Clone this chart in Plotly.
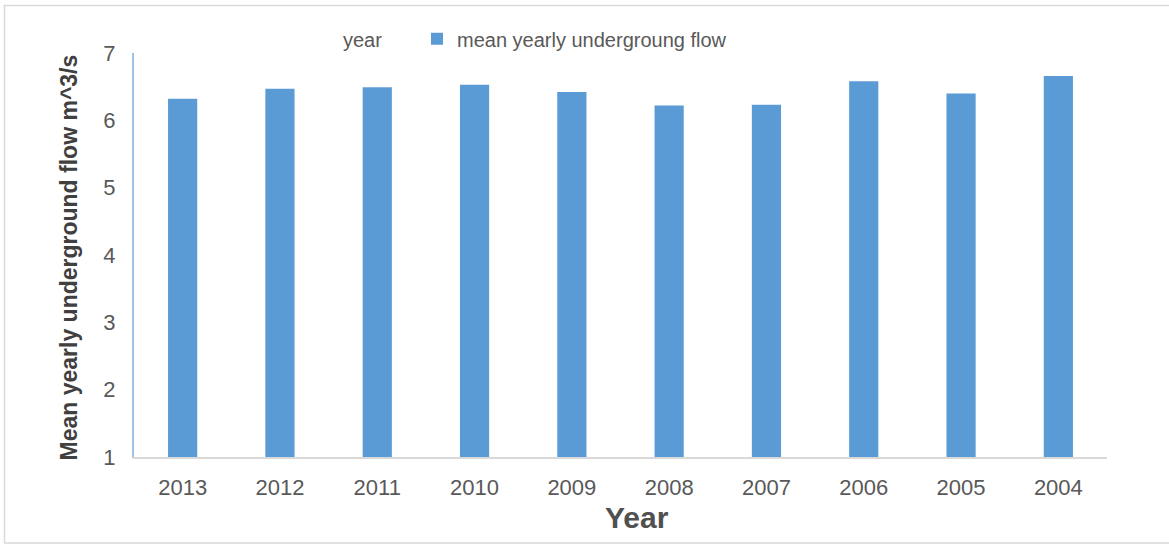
import plotly.graph_objects as go

years = ["2013", "2012", "2011", "2010", "2009", "2008", "2007", "2006", "2005", "2004"]
flow = [6.32, 6.47, 6.49, 6.53, 6.42, 6.22, 6.23, 6.58, 6.40, 6.66]
y_ticks = [1, 2, 3, 4, 5, 6, 7]

series_name = "mean yearly undergroung flow"
empty_name = "year"
x_title = "Year"
y_title = "Mean yearly underground flow m^3/s"

FONT = "Liberation Sans, Arial, sans-serif"
GRAY = "#595959"

fig = go.Figure()
fig.add_trace(go.Scatter(
    x=years, y=[None] * len(years), name=empty_name, mode="markers",
    marker=dict(color="rgba(0,0,0,0)", size=10), hoverinfo="skip",
    legend="legend",
))
fig.add_trace(go.Bar(
    x=years, y=flow, name=series_name,
    marker=dict(color="#5B9BD5", line=dict(width=0)),
    legend="legend2",
))

leg_common = dict(
    orientation="h", xanchor="left", y=1.035, yanchor="middle",
    font=dict(size=20, color=GRAY, family=FONT), bgcolor="rgba(0,0,0,0)",
)

fig.update_layout(
    width=1169, height=545,
    margin=dict(l=134, r=62, t=53, b=88),
    paper_bgcolor="white", plot_bgcolor="white",
    bargap=0.70, barmode="overlay",
    font=dict(family=FONT, color=GRAY),
    showlegend=True,
    legend=dict(x=(303 - 134) / 973, **leg_common),
    legend2=dict(x=(417 - 134) / 973, **leg_common),
    xaxis=dict(
        type="category", range=[-0.5, len(years) - 0.5], showgrid=False, zeroline=False,
        showline=True, linecolor="#D9D9D9", linewidth=1.5,
        ticks="outside", ticklen=10, tickcolor="rgba(0,0,0,0)",
        tickfont=dict(size=22, color=GRAY, family=FONT),
    ),
    yaxis=dict(
        range=[1, 7], tickvals=y_ticks, showgrid=False, zeroline=False,
        showline=True, linecolor="#9DC3E6", linewidth=2,
        ticks="outside", ticklen=12, tickcolor="rgba(0,0,0,0)",
        tickfont=dict(size=22, color=GRAY, family=FONT),
    ),
    annotations=[
        dict(text=f"<b>{x_title}</b>", xref="paper", yref="paper",
             x=(637 - 134) / 973, y=(457 - 517) / 404, xanchor="center", yanchor="middle",
             showarrow=False, font=dict(size=30, color="#505050", family=FONT)),
        dict(text=f"<b>{y_title}</b>", xref="paper", yref="paper", textangle=-90,
             x=(68 - 134) / 973, y=(457 - 257.5) / 404, xanchor="center", yanchor="middle",
             showarrow=False, font=dict(size=23, color="#404040", family=FONT)),
    ],
    shapes=[
        dict(type="rect", xref="paper", yref="paper",
             x0=(4.5 - 134) / 973, x1=(1172 - 134) / 973,
             y0=(457 - 543) / 404, y1=(457 - 5.5) / 404,
             line=dict(color="#D9D9D9", width=1.5), fillcolor="rgba(0,0,0,0)", layer="below"),
    ],
)

fig.write_html("out.html")
